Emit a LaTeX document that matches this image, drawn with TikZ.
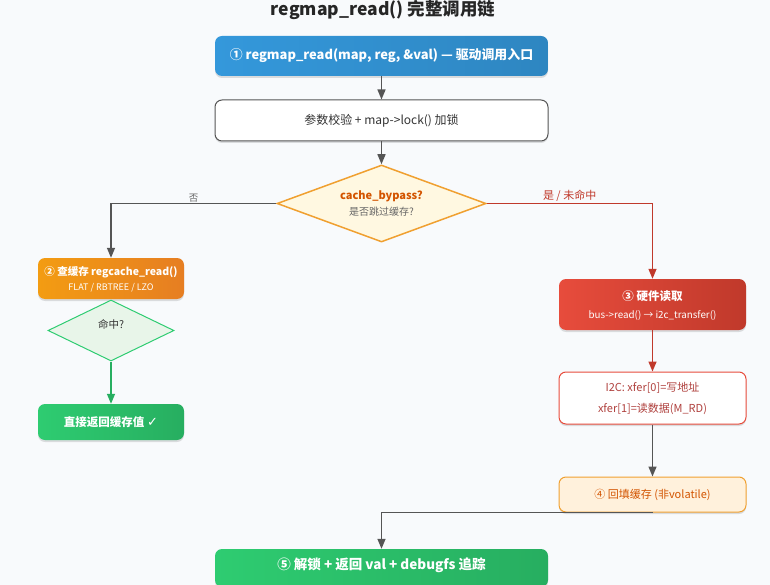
\documentclass[tikz,border=0pt]{standalone}
\usepackage{fontspec}
\setmainfont{Noto Sans CJK SC}
\newfontfamily\symfont{DejaVu Sans}
\usetikzlibrary{arrows.meta,shapes.geometric,shadows}
\definecolor{bgc}{HTML}{F8FAFC}
\definecolor{edgegray}{HTML}{555555}
\definecolor{blueA}{HTML}{3498DB}
\definecolor{blueB}{HTML}{2E86C1}
\definecolor{orangeA}{HTML}{F39C12}
\definecolor{orangeB}{HTML}{E67E22}
\definecolor{redA}{HTML}{E74C3C}
\definecolor{redB}{HTML}{C0392B}
\definecolor{greenA}{HTML}{2ECC71}
\definecolor{greenB}{HTML}{27AE60}
\definecolor{yellowfill}{HTML}{FFF8E1}
\definecolor{yellowline}{HTML}{F0A030}
\definecolor{darkorange}{HTML}{D35400}
\definecolor{greenfill}{HTML}{E8F5E9}
\definecolor{lightorange}{HTML}{FFF1DC}
\definecolor{txtgray}{HTML}{666666}
\definecolor{txtdark}{HTML}{333333}
\definecolor{brownred}{HTML}{B0413E}
\tikzset{
  x=1pt,y=-1pt,
  box/.style={rectangle,rounded corners=7pt,minimum height=#1,inner sep=0pt,align=center,
    drop shadow={shadow xshift=0pt,shadow yshift=-2pt,opacity=0.12,fill=black}},
  colorbox/.style n args={3}{box=#3,left color=#1,right color=#2,draw=none,text=white},
  arr/.style={-{Triangle[length=10pt,width=8pt]},line width=1.4pt,draw=edgegray},
  redarr/.style={arr,draw=redB},
  greenarr/.style={arr,draw=greenB},
  lbl/.style={font=\fontsize{9.5}{11}\selectfont,inner sep=1pt}
}
\begin{document}
\begin{tikzpicture}
\fill[bgc] (0,0) rectangle (770,585);
\clip (0,0) rectangle (770,585);
\useasboundingbox (0,0) rectangle (770,585);

\node[font=\fontsize{17.5}{20}\bfseries\selectfont,text=black!85] (title) at (383,10) {regmap\_read() 完整调用链};

\node[colorbox={blueA}{blueB}{40pt},minimum width=333pt,font=\fontsize{12.9}{15}\bfseries\selectfont] (n1) at (381.5,56)
  {① regmap\_read(map, reg, \&val) — 驱动调用入口};

\node[box=41pt,minimum width=333pt,draw=edgegray,line width=1pt,fill=white,text=txtdark,font=\fontsize{12}{14}\selectfont] (n2) at (381.5,120.5)
  {参数校验 + map->lock() 加锁};

\node[diamond,minimum width=209pt,minimum height=77pt,inner sep=0pt,aspect=2.7,draw=yellowline,line width=1.5pt,fill=yellowfill,align=center] (d1) at (381.5,203.5) {};
\node[font=\fontsize{11}{13}\bfseries\selectfont,text=darkorange] (d1a) at (381.5,196) {cache\_bypass?};
\node[font=\fontsize{10}{12}\selectfont,text=txtgray] (d1b) at (381.5,212) {是否跳过缓存?};

\node[colorbox={orangeA}{orangeB}{41pt},minimum width=146pt] (n3) at (111,278.5) {};
\node[font=\fontsize{10.5}{12}\bfseries\selectfont,text=white] (n3a) at (111,272) {② 查缓存 regcache\_read()};
\node[font=\fontsize{9}{10}\selectfont,text=white] (n3b) at (111,287.5) {FLAT / RBTREE / LZO};

\node[diamond,minimum width=126pt,minimum height=61pt,inner sep=0pt,aspect=2.1,draw=greenA,line width=1pt,fill=greenfill] (d2) at (111,330.5) {};
\node[font=\fontsize{10.5}{12}\selectfont,text=txtdark] (d2a) at (111,324) {命中?};

\node[colorbox={greenA}{greenB}{36pt},minimum width=146pt,font=\fontsize{11.5}{13}\bfseries\selectfont] (n3c) at (111,422)
  {直接返回缓存值 {\symfont\fontsize{13}{13}\selectfont ✓}};

\node[colorbox={redA}{redB}{51pt},minimum width=187pt] (r1) at (652.5,304.5) {};
\node[font=\fontsize{11.5}{13}\bfseries\selectfont,text=white] (r1a) at (652.5,296) {③ 硬件读取};
\node[font=\fontsize{9.8}{11}\selectfont,text=white] (r1b) at (652.5,315) {bus->read() → i2c\_transfer()};

\node[box=52pt,minimum width=187pt,draw=redA,line width=1pt,fill=white] (r2) at (652.5,398) {};
\node[font=\fontsize{11}{13}\selectfont,text=brownred] (r2a) at (652.5,388) {I2C: xfer[0]=写地址};
\node[font=\fontsize{11}{13}\selectfont,text=brownred] (r2b) at (652.5,408.5) {xfer[1]=读数据(M\_RD)};

\node[box=35pt,minimum width=187pt,draw=yellowline,line width=1pt,fill=lightorange,text=darkorange,font=\fontsize{11}{13}\selectfont] (n4) at (652.5,494.5)
  {④ 回填缓存 (非volatile)};

\node[colorbox={greenA}{greenB}{38pt},minimum width=333pt] (n5) at (381.5,568) {};
\node[font=\fontsize{13.5}{15}\bfseries\selectfont,text=white] (n5a) at (381.5,565) {⑤ 解锁 + 返回 val + debugfs 追踪};

% connectors
\draw[arr] (n1.south) -- (n2.north);
\draw[arr] (n2.south) -- (d1.north);
\draw[arr] (d1.west) -| (n3.north) node[pos=0.25,above,lbl,text=txtgray] {否};
\draw[redarr] (d1.east) -| (r1.north) node[pos=0.25,above,lbl,text=redB,font=\fontsize{11}{13}\selectfont] {是 / 未命中};
\draw[greenarr] (d2.south) -- (n3c.north);
\draw[redarr] (r1.south) -- (r2.north);
\draw[arr] (r2.south) -- (n4.north);
\draw[arr] (n4.south) -| (n5.north);
\end{tikzpicture}
\end{document}
